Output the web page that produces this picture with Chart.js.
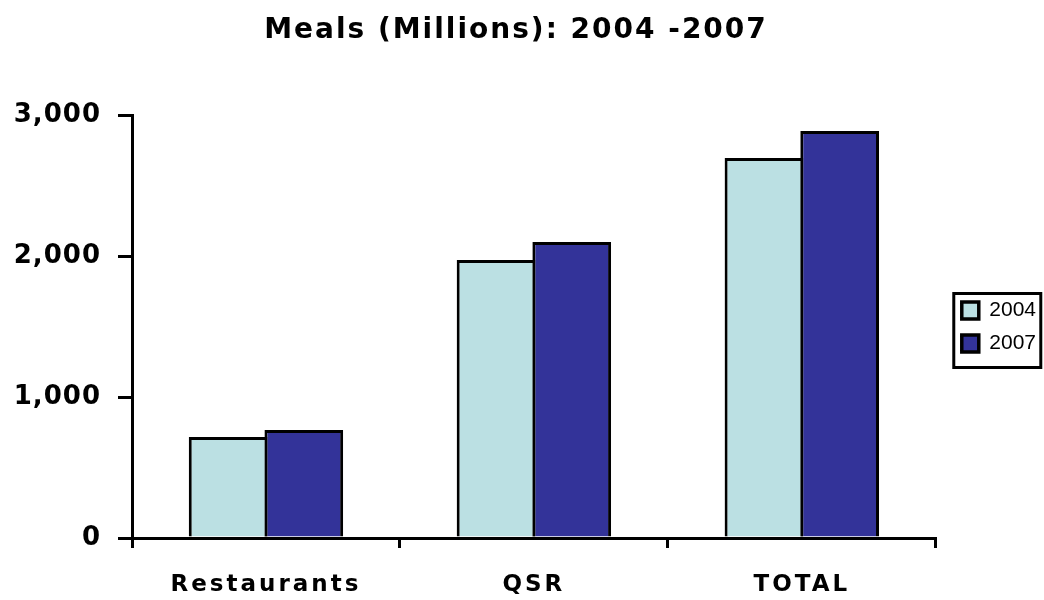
<!DOCTYPE html>
<html>
<head>
<meta charset="utf-8">
<script src="https://cdn.jsdelivr.net/npm/chart.js@4"></script>
<style>
    html, body { margin: 0; padding: 0; background: #fff; }
    #wrap { width: 1044px; height: 600px; }
</style>
</head>
<body>
<div id="wrap"><canvas id="myChart" width="1044" height="600"></canvas></div>
<script>
const categories = ['Restaurants', 'QSR', 'TOTAL']
const meals2004 = [717, 1974, 2699]
const meals2007 = [767, 2102, 2891]
const yTicks = [0, 1000, 2000, 3000]

// the old chart has wide-spaced bold text; give title and labels some tracking
const spacingBySize = { '28px': '2px', '26px': '1px', '23px': '3px' }
const origFillText = CanvasRenderingContext2D.prototype.fillText
CanvasRenderingContext2D.prototype.fillText = function (text, x, y, maxWidth) {
    const m = /(\d+px) "?DejaVu Sans"?$/.exec(this.font)
    const prev = this.letterSpacing
    if (m && spacingBySize[m[1]]) this.letterSpacing = spacingBySize[m[1]]
    if (maxWidth === undefined) origFillText.call(this, text, x, y)
    else origFillText.call(this, text, x, y, maxWidth)
    this.letterSpacing = prev
}

const legendShift = { x: 14, y: 27 }

// nudge the legend and draw the box round it, like the old spreadsheet charts
const legendBox = {
    id: 'legendBox',
    afterLayout(chart) {
        const lg = chart.legend
        lg.left += legendShift.x
        lg.right += legendShift.x
        lg.top += legendShift.y
        lg.bottom += legendShift.y
    },
    afterDraw(chart) {
        const lg = chart.legend
        if (!lg || !lg.legendHitBoxes.length) return
        const hb = lg.legendHitBoxes
        const first = hb[0]
        const last = hb[hb.length - 1]
        const ctx = chart.ctx
        const x = first.left - 8
        const y = first.top + first.height / 2 - 17
        const h = (last.top + last.height / 2) - (first.top + first.height / 2) + 41
        ctx.save()
        ctx.strokeStyle = '#000'
        ctx.lineWidth = 3
        ctx.strokeRect(x, y, 87, h)
        ctx.restore()
    }
}

const ctx = document.getElementById('myChart').getContext('2d')
new Chart(ctx, {
    type: 'bar',
    data: {
        labels: categories,
        datasets: [
            {
                label: '2004',
                data: meals2004,
                backgroundColor: '#BBE0E3',
                borderColor: '#000',
                borderWidth: 3
            },
            {
                label: '2007',
                data: meals2007,
                backgroundColor: '#333399',
                borderColor: '#000',
                borderWidth: 3
            }
        ]
    },
    options: {
        responsive: false,
        animation: false,
        layout: { padding: { left: 0, right: 12, top: 0, bottom: 0 } },
        datasets: { bar: { categoryPercentage: 0.565, barPercentage: 1.04 } },
        plugins: {
            title: {
                display: true,
                text: 'Meals (Millions): 2004 -2007',
                color: '#000',
                font: { family: 'DejaVu Sans', size: 28, weight: 'bold' },
                padding: { top: 14, bottom: 68 }
            },
            legend: {
                position: 'right',
                align: 'center',
                labels: {
                    color: '#000',
                    font: { family: 'Liberation Sans', size: 21 },
                    boxWidth: 17,
                    boxHeight: 17,
                    padding: 12,
                    generateLabels(chart) {
                        return chart.data.datasets.map((d, i) => ({
                            text: d.label,
                            fillStyle: d.backgroundColor,
                            strokeStyle: '#000',
                            lineWidth: 3.5,
                            datasetIndex: i
                        }))
                    }
                }
            },
            tooltip: { enabled: false }
        },
        scales: {
            x: {
                offset: true,
                afterFit(axis) { axis.height = 62 },
                grid: {
                    offset: true,
                    drawOnChartArea: false,
                    drawTicks: true,
                    tickLength: 10,
                    color: '#000',
                    lineWidth: 3
                },
                border: { display: true, color: '#000', width: 3 },
                ticks: {
                    color: '#000',
                    padding: 23,
                    font: { family: 'DejaVu Sans', size: 23, weight: 'bold' }
                }
            },
            y: {
                min: 0,
                max: 3000,
                afterFit(axis) { axis.width = 132 },
                afterBuildTicks(axis) {
                    axis.ticks = yTicks.map(v => ({ value: v }))
                },
                grid: {
                    drawOnChartArea: false,
                    drawTicks: true,
                    tickLength: 14,
                    color: '#000',
                    lineWidth: 3
                },
                border: { display: true, color: '#000', width: 3 },
                ticks: {
                    color: '#000',
                    padding: 17,
                    font: { family: 'DejaVu Sans', size: 26, weight: 'bold' },
                    callback: v => v.toLocaleString('en-US')
                }
            }
        }
    },
    plugins: [legendBox]
})
</script>
</body>
</html>
